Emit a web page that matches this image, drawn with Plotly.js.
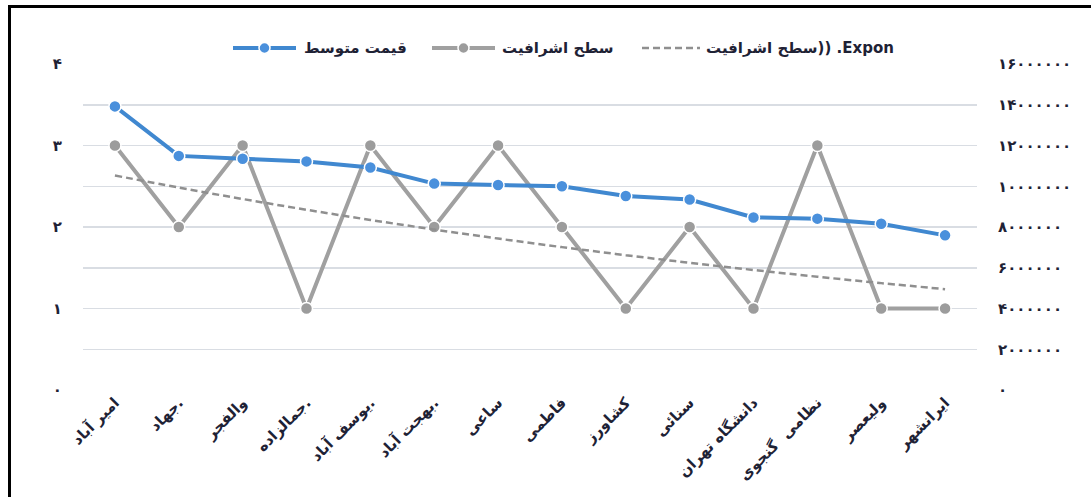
<!DOCTYPE html>
<html>
<head>
<meta charset="utf-8">
<script src="https://cdn.plot.ly/plotly-3.0.1.min.js"></script>
<style>
  html, body { margin: 0; padding: 0; background: #ffffff; }
  #wrap { position: relative; width: 1091px; height: 497px; overflow: hidden; background: #fff; }
  #chart { position: absolute; left: 0; top: 0; width: 1091px; height: 497px; }
  #frame { position: absolute; left: 8px; top: 5px; width: 1200px; height: 600px;
           border-top: 3px solid #000; border-left: 3px solid #000; pointer-events: none; }
</style>
</head>
<body>
<div id="wrap">
  <div id="chart"></div>
  <div id="frame"></div>
</div>
<script>
// ---- data ----
const categories = ['امیر آباد', 'جهاد.', 'والفجر', 'جمالزاده.', 'یوسف آباد.', 'بهجت آباد.', 'ساعی',
                    'فاطمی', 'کشاورز', 'سنائی', 'دانشگاه تهران', 'نظامی  گنجوی', 'ولیعصر', 'ایرانشهر'];
const avgPrice = [13920000, 11490000, 11350000, 11220000, 10920000, 10130000, 10060000,
                  10000000, 9520000, 9350000, 8470000, 8410000, 8160000, 7590000];
const luxuryLevel = [3, 2, 3, 1, 3, 2, 3, 2, 1, 2, 1, 3, 1, 1];

const leftTickVals = [0, 0.5, 1, 1.5, 2, 2.5, 3, 3.5, 4];
const leftTickText = ['۰', '', '۱', '', '۲', '', '۳', '', '۴'];
const rightTickVals = [0, 2000000, 4000000, 6000000, 8000000, 10000000, 12000000, 14000000, 16000000];
const rightTickText = ['۰', '۲۰۰۰۰۰۰', '۴۰۰۰۰۰۰', '۶۰۰۰۰۰۰', '۸۰۰۰۰۰۰',
                       '۱۰۰۰۰۰۰۰', '۱۲۰۰۰۰۰۰', '۱۴۰۰۰۰۰۰', '۱۶۰۰۰۰۰۰'];

const LRM = '\u200E';
const nameAvg = 'قیمت متوسط';
const nameLux = 'سطح اشرافیت';
const nameTrend = 'سطح اشرافیت)) .Expon';

// ---- exponential trendline (least squares on ln y), as the spreadsheet does ----
const n = luxuryLevel.length;
const xs = luxuryLevel.map((_, i) => i + 1);
const lys = luxuryLevel.map(v => Math.log(v));
const mx = xs.reduce((a, b) => a + b, 0) / n;
const my = lys.reduce((a, b) => a + b, 0) / n;
let sxy = 0, sxx = 0;
for (let i = 0; i < n; i++) { sxy += (xs[i] - mx) * (lys[i] - my); sxx += (xs[i] - mx) ** 2; }
const b = sxy / sxx, a = my - b * mx;
const trend = xs.map(x => Math.exp(a + b * x));

// ---- styling ----
const txt = '#1e2235';
const fontFam = '"DejaVu Sans", "Noto Sans", sans-serif';
const blueLine = '#4088d0', blueMark = '#4a90dc';
const grayLine = '#a0a0a0', grayMark = '#9c9c9c';
const trendColor = '#8f8f8f';

const catLabels = categories.map(c => LRM + c);

const traces = [
  {
    x: catLabels, y: avgPrice, name: nameAvg, yaxis: 'y2', type: 'scatter', mode: 'lines+markers',
    line: { color: blueLine, width: 4 },
    marker: { color: blueMark, size: 12, line: { color: '#ffffff', width: 1.5 } }
  },
  {
    x: catLabels, y: luxuryLevel, name: nameLux, yaxis: 'y', type: 'scatter', mode: 'lines+markers',
    line: { color: grayLine, width: 4 },
    marker: { color: grayMark, size: 12, line: { color: '#ffffff', width: 1.5 } }
  },
  {
    x: catLabels, y: trend, name: nameTrend, yaxis: 'y', type: 'scatter', mode: 'lines',
    line: { color: trendColor, width: 2.5, dash: '7px,4px', shape: 'spline' }
  }
];

// ---- custom legend (paper coordinates from page pixels) ----
const L = 83, W = 894, T = 64, H = 326;
const px = v => (v - L) / W;
const py = v => 1 + (T - v) / H;
const legY = 48;
const legendItems = [
  { x0: 233, x1: 296, text: nameAvg, line: blueLine, mark: blueMark, dash: 'solid', marker: true, tx: 302 },
  { x0: 432, x1: 495, text: nameLux, line: grayLine, mark: grayMark, dash: 'solid', marker: true, tx: 500 },
  { x0: 642, x1: 700, text: nameTrend, line: trendColor, mark: null, dash: '7px,4px', marker: false, tx: 704 }
];
const shapes = [];
const annotations = [];
legendItems.forEach(it => {
  shapes.push({ type: 'line', xref: 'paper', yref: 'paper', x0: px(it.x0), x1: px(it.x1), y0: py(legY), y1: py(legY),
                line: { color: it.line, width: it.marker ? 4 : 2.5, dash: it.dash } });
  if (it.marker) {
    const cx = (it.x0 + it.x1) / 2, r = 5.5;
    shapes.push({ type: 'circle', xref: 'paper', yref: 'paper', x0: px(cx - r), x1: px(cx + r), y0: py(legY + r), y1: py(legY - r),
                  fillcolor: it.mark, line: { color: '#ffffff', width: 1.5 } });
  }
  annotations.push({ xref: 'paper', yref: 'paper', x: px(it.tx), y: py(legY), xanchor: 'left', yanchor: 'middle',
                     text: LRM + it.text, showarrow: false,
                     font: { family: fontFam, size: 15, color: txt, weight: 'bold' } });
});

const layout = {
  width: 1091, height: 497,
  paper_bgcolor: 'rgba(0,0,0,0)', plot_bgcolor: 'rgba(0,0,0,0)',
  margin: { l: 83, r: 114, t: 64, b: 107 },
  font: { family: fontFam, color: txt, size: 13 },
  showlegend: false,
  shapes: shapes,
  annotations: annotations,
  xaxis: {
    type: 'category', range: [-0.5, 13.5], tickangle: -45, showgrid: false, zeroline: false, showline: false,
    ticks: '', tickfont: { family: fontFam, size: 15, color: txt, weight: 'bold' },
    automargin: false, fixedrange: true
  },
  yaxis: {
    range: [0, 4], tickvals: leftTickVals, ticktext: leftTickText,
    showgrid: true, gridcolor: '#d9dde3', gridwidth: 1.5, zeroline: false, showline: false,
    ticks: '', ticklabelstandoff: 20,
    tickfont: { family: fontFam, size: 15, color: txt, weight: 'bold' },
    automargin: false, fixedrange: true
  },
  yaxis2: {
    range: [0, 16000000], tickvals: rightTickVals, ticktext: rightTickText,
    overlaying: 'y', side: 'right', showgrid: false, zeroline: false, showline: false,
    ticks: '', ticklabelstandoff: 20,
    tickfont: { family: fontFam, size: 15, color: txt, weight: 'bold' },
    automargin: false, fixedrange: true
  }
};

Plotly.newPlot('chart', traces, layout, { displayModeBar: false, staticPlot: true });
</script>
</body>
</html>
